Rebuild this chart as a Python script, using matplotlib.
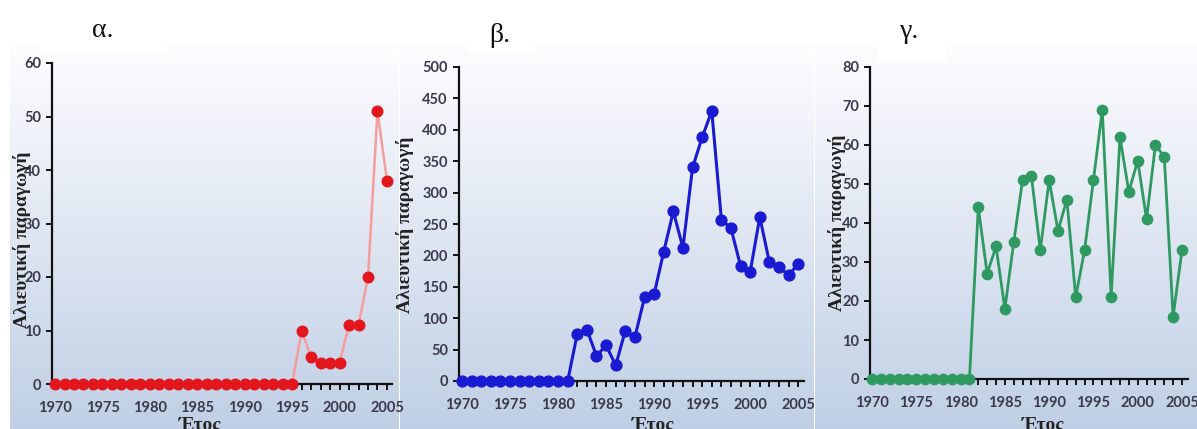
import numpy as np
import matplotlib
matplotlib.use("Agg")
import matplotlib.pyplot as plt
from matplotlib.ticker import MultipleLocator, FixedLocator

# ---- data ----
years = list(range(1970, 2006))

catch_a = [0] * 26 + [10, 5, 4, 4, 4, 11, 11, 20, 51, 38]
catch_b = [0] * 12 + [75, 82, 40, 57, 25, 80, 70, 133, 138, 206, 270, 212,
                      340, 388, 430, 257, 243, 183, 174, 261, 189, 182, 168, 187]
catch_g = [0] * 12 + [44, 27, 34, 18, 35, 51, 52, 33, 51, 38, 46, 21,
                      33, 51, 69, 21, 62, 48, 56, 41, 60, 57, 16, 33]

panel_titles = ["α.", "β.", "γ."]
y_label = "Αλιευτική παραγωγή"
x_label = "Έτος"
x_ticks = [1970, 1975, 1980, 1985, 1990, 1995, 2000, 2005]

# ---- figure ----
W, H = 1197, 429
fig = plt.figure(figsize=(W / 100, H / 100), dpi=100)

# background layer in pixel coordinates
bg = fig.add_axes([0, 0, 1, 1], zorder=-10)
bg.set_xlim(0, W)
bg.set_ylim(H, 0)
bg.axis("off")

top_c = np.array([253, 253, 255]) / 255
bot_c = np.array([192, 207, 229]) / 255
grad_top = 45
t = np.linspace(0, 1, 256)[:, None]
grad = (top_c[None, :] * (1 - t) + bot_c[None, :] * t)[:, None, :]
grad = np.repeat(grad, 2, axis=1)
for x0, x1 in [(10, 399), (400, 814), (815, W)]:
    bg.imshow(grad, extent=(x0, x1, H, grad_top), aspect="auto",
              interpolation="bilinear")
for x0, x1, y1 in [(40, 165, 52), (468, 533, 52), (878, 945, 60)]:
    bg.add_patch(plt.Rectangle((x0, 0), x1 - x0, y1, color="white", zorder=2))


def px_axes(left, right, top, bottom):
    return fig.add_axes([left / W, 1 - bottom / H, (right - left) / W,
                         (bottom - top) / H])


panels = [
    dict(box=(52, 392, 63, 384), xlim=(1969.68, 2005.53), ymax=60, ystep=10,
         data=catch_a, line="#f59c9c", marker="#e3161e", lw=1.8, ms=7.6,
         title_xy=(103, 37), ylab_xy=(22, 240), xlab_x=200),
    dict(box=(459, 804, 67, 381), xlim=(1969.69, 2005.6), ymax=500, ystep=50,
         data=catch_b, line="#1a1ad2", marker="#1a1ad2", lw=2.2, ms=7.8,
         title_xy=(500, 42), ylab_xy=(405, 225), xlab_x=653),
    dict(box=(870, 1188, 67, 379), xlim=(1969.77, 2005.68), ymax=80, ystep=10,
         data=catch_g, line="#2e9960", marker="#2e9960", lw=2.0, ms=7.4,
         title_xy=(910, 38), ylab_xy=(837, 223), xlab_x=1043),
]

tick_color = "#3a3a4c"

for p, title in zip(panels, panel_titles):
    ax = px_axes(*p["box"])
    ax.patch.set_alpha(0)
    ax.plot(years, p["data"], color=p["line"], lw=p["lw"], zorder=3,
            clip_on=False)
    ax.plot(years, p["data"], ls="none", marker="o", ms=p["ms"],
            mfc=p["marker"], mec=p["marker"], zorder=4, clip_on=False)
    ax.set_xlim(*p["xlim"])
    ax.set_ylim(0, p["ymax"])
    for s in ("top", "right"):
        ax.spines[s].set_visible(False)
    for s in ("left", "bottom"):
        ax.spines[s].set_linewidth(1.6)
        ax.spines[s].set_color("#111111")
        ax.spines[s].set_zorder(2)
    ax.yaxis.set_major_locator(MultipleLocator(p["ystep"]))
    ax.xaxis.set_major_locator(FixedLocator(x_ticks))
    ax.xaxis.set_minor_locator(MultipleLocator(1))
    ax.tick_params(axis="y", direction="out", length=4, width=1.4,
                   pad=4, colors="#111111", labelcolor=tick_color)
    ax.tick_params(axis="x", which="both", direction="out", length=4,
                   width=1.4, colors="#111111", labelcolor=tick_color)
    ax.tick_params(axis="x", which="major", pad=8.5)
    for lab in ax.get_xticklabels():
        lab.set_fontfamily("Lato")
        lab.set_fontweight("bold")
        lab.set_fontsize(10.5)
    for lab in ax.get_yticklabels():
        lab.set_fontfamily("Lato")
        lab.set_fontweight("bold")
        lab.set_fontsize(10.5)

    tx, ty = p["title_xy"]
    fig.text(tx / W, 1 - ty / H, title, family="Liberation Serif",
             size=20, ha="center", va="baseline", color="#111111")
    lx, ly = p["ylab_xy"]
    fig.text(lx / W, 1 - ly / H, y_label, family="Liberation Serif",
             weight="bold", size=14, rotation=90, ha="center", va="center",
             color="#222222")
    fig.text(p["xlab_x"] / W, 1 - 416 / H, x_label, family="Liberation Serif",
             weight="bold", size=14, ha="center", va="top", color="#222222")

fig.savefig("out.png", dpi=100)
